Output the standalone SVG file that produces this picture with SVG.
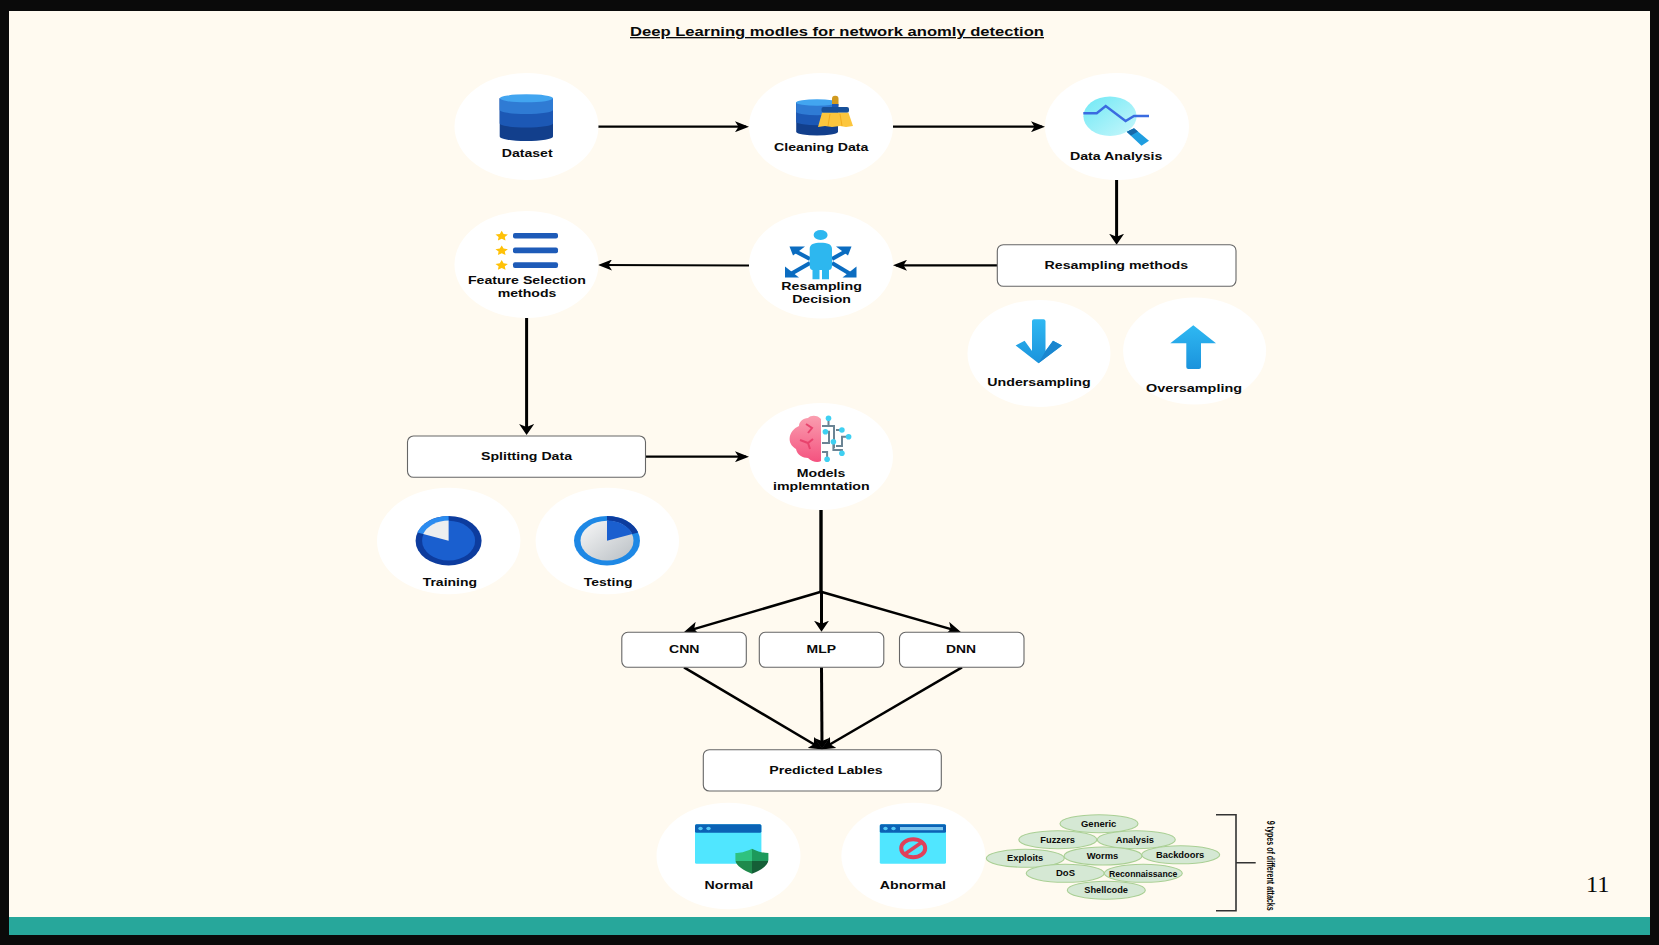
<svg xmlns="http://www.w3.org/2000/svg" width="1659" height="945" viewBox="0 0 1659 945">
<style>
text{font-family:"Liberation Sans",Arial,sans-serif;font-weight:700;fill:#0a0a0a;font-size:11.5px}
.g text{font-size:9.5px}
.disc{fill:#fff}
.box{fill:#fff;stroke:#666;stroke-width:1.1}
.oval{fill:#d5e8d4;stroke:#a9cf94;stroke-width:1.1}
.c line{stroke:#000;fill:none}
.h{stroke-width:2.2;marker-end:url(#aH)}
.v{stroke-width:3;marker-end:url(#aV)}
.d{stroke-width:2.5;marker-end:url(#aD)}
.bar{fill:#1e5bb8}
.star{fill:#ffc107}
.win{fill:#50e6ff}
.winb{fill:#0b62b5}
.dot{fill:#54c8f5}
.wire{fill:none;stroke:#6b8494;stroke-width:2}
.cy{fill:#3fd0f2}
</style>
<defs>
<marker id="aH" markerUnits="userSpaceOnUse" markerWidth="14" markerHeight="11" refX="11" refY="5.5" orient="auto"><path d="M0 0L14 5.5L0 11L3.5 5.5Z" fill="#000"/></marker>
<marker id="aV" markerUnits="userSpaceOnUse" markerWidth="11" markerHeight="15" refX="8" refY="7.5" orient="auto"><path d="M0 0L11 7.5L0 15L3 7.5Z" fill="#000"/></marker>
<marker id="aD" markerUnits="userSpaceOnUse" markerWidth="14" markerHeight="13" refX="10" refY="6.5" orient="auto"><path d="M0 0L14 6.5L0 13L3.5 6.5Z" fill="#000"/></marker>
<linearGradient id="blue" x1="0" y1="0" x2="0" y2="1"><stop offset="0" stop-color="#2fb8f2"/><stop offset="1" stop-color="#1b93dc"/></linearGradient>
<linearGradient id="lens" x1="0" y1="0" x2="1" y2="1"><stop offset="0" stop-color="#6fe8f5"/><stop offset="1" stop-color="#c8f7fb"/></linearGradient>
<linearGradient id="gray" x1="0" y1="0" x2="1" y2="1"><stop offset="0" stop-color="#f8f8f8"/><stop offset="1" stop-color="#b9bfc4"/></linearGradient>
<linearGradient id="pink" x1="0" y1="0" x2="0" y2="1"><stop offset="0" stop-color="#fa9fb0"/><stop offset="1" stop-color="#f4527f"/></linearGradient>
<clipPath id="shieldClip"><path d="M751.9 848.7C745 852 740 853 735.4 853V860C735.4 866 745 871 751.9 873.7C759 871 768.4 866 768.4 860V853C764 853 759 852 751.9 848.7Z"/></clipPath>
</defs>

<rect id="frame" width="1659" height="945" fill="#0a0a0a"/>
<rect x="9" y="11" width="1641" height="906" fill="#fffaf0"/>
<rect x="9" y="917" width="1641" height="18" fill="#27a79b"/>
<text id="title" x="630" y="36" style="font-size:13px;text-decoration:underline" textLength="414" lengthAdjust="spacingAndGlyphs">Deep Learning modles for network anomly detection</text>
<text id="page" x="1586" y="892.3" style="font-family:'Liberation Serif',serif;font-weight:400;font-size:23px" textLength="23.5" lengthAdjust="spacingAndGlyphs">11</text>

<g id="connectors" class="c">
<line class="h" x1="598" y1="126.7" x2="746" y2="126.7"/>
<line class="h" x1="893" y1="126.7" x2="1042" y2="126.7"/>
<line class="v" x1="1116.6" y1="180" x2="1116.6" y2="241.7"/>
<line class="h" x1="997" y1="265.3" x2="896" y2="265.3"/>
<line class="h" x1="749" y1="265.5" x2="601" y2="265"/>
<line class="v" x1="526.6" y1="318" x2="526.6" y2="432"/>
<line class="h" x1="645.4" y1="456.7" x2="746" y2="456.7"/>
<line x1="821" y1="510" x2="821" y2="592" stroke-width="3.4"/>
<line class="v" x1="821.5" y1="591" x2="821.5" y2="628.7"/>
<line class="d" x1="821" y1="591.7" x2="687.9" y2="630.9"/>
<line class="d" x1="821" y1="591.7" x2="957" y2="630.9"/>
<line class="d" x1="684" y1="667.3" x2="819.4" y2="747.5"/>
<line class="v" x1="821.5" y1="667.3" x2="822" y2="746"/>
<line class="d" x1="962" y1="667.3" x2="824.6" y2="747.5"/>
</g>

<g id="dataset">
<ellipse class="disc" cx="526.5" cy="126.5" rx="72" ry="53.5"/>
<path d="M499.7 98.3V136.5A26.6 4.5 0 0 0 553 136.5V98.3Z" fill="#123f8c"/>
<path d="M499.7 98.3V123.5A26.6 4 0 0 0 553 123.5V98.3Z" fill="#1c58b5"/>
<path d="M499.7 98.3V110A26.6 4 0 0 0 553 110V98.3Z" fill="#2f7bd4"/>
<ellipse cx="526.4" cy="98.3" rx="26.6" ry="4" fill="#42a5f0"/>
<text x="501.7" y="156.7" textLength="51" lengthAdjust="spacingAndGlyphs">Dataset</text>
</g>

<g id="cleaning-data">
<ellipse class="disc" cx="821" cy="126.5" rx="72" ry="53.5"/>
<path d="M796.2 102.5V132A21 4 0 0 0 838 132V102.5Z" fill="#123f8c"/>
<path d="M796.2 102.5V122A21 3.5 0 0 0 838 122V102.5Z" fill="#1c58b5"/>
<path d="M796.2 102.5V112A21 3.5 0 0 0 838 112V102.5Z" fill="#2f7bd4"/>
<ellipse cx="817" cy="102.5" rx="21" ry="3.2" fill="#42a5f0"/>
<rect x="832" y="95.7" width="6.5" height="12" rx="3" fill="#d19a1f"/>
<rect x="832" y="104" width="6.5" height="4" fill="#1c58b5"/>
<rect x="821.5" y="107" width="27.5" height="5.7" rx="2" fill="#175099"/>
<path d="M822 112.7H848.5L853 126L846 127L840 126L832 127L825 126L818 127Z" fill="#fcc63d"/>
<path d="M830 114L828 126M840 114L842 126" stroke="#f2ab1c" stroke-width="1" fill="none"/>
<text x="774" y="151" textLength="94.4" lengthAdjust="spacingAndGlyphs">Cleaning Data</text>
</g>

<g id="data-analysis">
<ellipse class="disc" cx="1117" cy="126.5" rx="72" ry="53.5"/>
<path d="M1126.6 131.7L1134 128.3L1149 140.7L1141.5 145.7Z" fill="#1f9ee0"/>
<path d="M1126.6 131.7L1134 128.3L1138 131.6L1131 135.5Z" fill="#1769aa"/>
<ellipse cx="1110" cy="116.3" rx="26.6" ry="19.7" fill="url(#lens)"/>
<polyline points="1083.3,113.3 1096.7,113.3 1105.7,106 1125.6,121 1134,116 1149,116" fill="none" stroke="#3a6be0" stroke-width="2.4"/>
<text x="1070" y="160.3" textLength="92.4" lengthAdjust="spacingAndGlyphs">Data Analysis</text>
</g>

<g id="feature-selection">
<ellipse class="disc" cx="526.5" cy="264.5" rx="72" ry="53.5"/>
<path class="star" d="M501.7 230.8l1.9 3.2 4.3.6-3.1 2.4.7 3.4-3.8-1.7-3.8 1.7.7-3.4-3.1-2.4 4.3-.6Z"/>
<path class="star" d="M501.7 245.4l1.9 3.2 4.3.6-3.1 2.4.7 3.4-3.8-1.7-3.8 1.7.7-3.4-3.1-2.4 4.3-.6Z"/>
<path class="star" d="M501.7 260.1l1.9 3.2 4.3.6-3.1 2.4.7 3.4-3.8-1.7-3.8 1.7.7-3.4-3.1-2.4 4.3-.6Z"/>
<rect class="bar" x="513" y="232.9" width="45" height="5.7" rx="2"/>
<rect class="bar" x="513" y="247.5" width="45" height="5.7" rx="2"/>
<rect class="bar" x="513" y="262.2" width="45" height="5.7" rx="2"/>
<text x="467.9" y="284.3" textLength="117.9" lengthAdjust="spacingAndGlyphs">Feature Selection</text>
<text x="497.7" y="297.3" textLength="58.7" lengthAdjust="spacingAndGlyphs">methods</text>
</g>

<g id="resampling-decision">
<ellipse class="disc" cx="821" cy="265" rx="72" ry="53.5"/>
<g fill="none" stroke="#0b6cc0" stroke-width="4">
<line x1="810" y1="259" x2="793" y2="250"/>
<line x1="832" y1="259" x2="848" y2="250"/>
<line x1="810" y1="263" x2="789" y2="275"/>
<line x1="832" y1="263" x2="852" y2="275"/>
</g>
<g fill="#0b6cc0">
<path d="M789.5 246.5H805L793 255.5Z"/><path d="M851.5 246.5H836L848 255.5Z"/>
<path d="M785 277.5V266.5L799 277.5Z"/><path d="M856.5 277.5V266.5L842.5 277.5Z"/>
</g>
<ellipse cx="820.6" cy="235" rx="7" ry="5" fill="#2db7ef"/>
<path d="M809.7 249C809.7 244 814 242.7 820.6 242.7S832 244 832 249V266C832 269 830 270 829 270V279.3H822V270H819.5V279.3H812.5V270C811.5 270 809.7 269 809.7 266Z" fill="#2db7ef"/>
<text x="781.3" y="290.3" textLength="80.6" lengthAdjust="spacingAndGlyphs">Resampling</text>
<text x="792.2" y="303.3" textLength="58.8" lengthAdjust="spacingAndGlyphs">Decision</text>
</g>

<g id="resampling-methods">
<rect class="box" x="997.3" y="244.7" width="238.7" height="41.6" rx="6"/>
<text x="1044.5" y="269" textLength="143.7" lengthAdjust="spacingAndGlyphs">Resampling methods</text>
</g>

<g id="undersampling">
<ellipse class="disc" cx="1039" cy="353.5" rx="71.5" ry="53.5"/>
<path d="M1032 321A2 2 0 0 1 1034 319.3H1043.5A2 2 0 0 1 1045.5 321V351L1053 340.7L1062 345.5L1038.5 363.3L1015.6 345.5L1024.6 340.7L1032 351Z" fill="url(#blue)"/>
<path d="M1045.5 351L1053 340.7L1062 345.5L1038.5 363.3Z" fill="#1a86cf"/>
<text x="987.3" y="386.3" textLength="103.4" lengthAdjust="spacingAndGlyphs">Undersampling</text>
</g>

<g id="oversampling">
<ellipse class="disc" cx="1194.6" cy="351" rx="71.5" ry="53.5"/>
<path d="M1193.3 325.3L1216 343.3L1201 343.3V367A2 2 0 0 1 1199 369H1188.3A2 2 0 0 1 1186.3 367V343.3L1170.3 343.3Z" fill="url(#blue)"/>
<text x="1146" y="392" textLength="96" lengthAdjust="spacingAndGlyphs">Oversampling</text>
</g>

<g id="splitting-data">
<rect class="box" x="407.5" y="436" width="238" height="41.3" rx="6"/>
<text x="481" y="460.3" textLength="91" lengthAdjust="spacingAndGlyphs">Splitting Data</text>
</g>

<g id="models-implementation">
<ellipse class="disc" cx="821" cy="456.5" rx="72" ry="53.5"/>
<path d="M821 419C818 415 811 414.5 808 418C803 418 799 422 799 426C794 428 789.6 433 789.6 439C789.6 444 793 447 796 449C797 455 803 458 808 458C812 462 818 463 821 461Z" fill="url(#pink)"/>
<path d="M806 424L812 428L808 433M800 440L808 443L813 439M808 443L810 449" fill="none" stroke="#e8436d" stroke-width="2"/>
<path class="wire" d="M828.5 418.3V426M822 426H834V448M825.4 431.7H829V443H822M841.9 430H836M848.6 436.7H842V446H836M833.4 441.7V450H841.9V453.3M827.1 459.3V452H822"/>
<circle class="cy" cx="828.5" cy="418.3" r="2.8"/>
<circle class="cy" cx="825.4" cy="431.7" r="2.8"/>
<circle class="cy" cx="841.9" cy="430" r="2.8"/>
<circle class="cy" cx="848.6" cy="436.7" r="2.8"/>
<circle class="cy" cx="833.4" cy="441.7" r="2.8"/>
<circle class="cy" cx="841.9" cy="453.3" r="2.8"/>
<circle class="cy" cx="827.1" cy="459.3" r="2.8"/>
<text x="796.8" y="476.7" textLength="48.6" lengthAdjust="spacingAndGlyphs">Models</text>
<text x="773" y="489.7" textLength="96.6" lengthAdjust="spacingAndGlyphs">implemntation</text>
</g>

<g id="training">
<ellipse class="disc" cx="448.7" cy="541" rx="71.7" ry="53.3"/>
<g transform="translate(448.6 540.7) scale(1 .75)">
<circle r="33" fill="#0d3c9e"/>
<path d="M0 0L-31.2 -10.9A33 33 0 0 1 0 -33Z" fill="#2b8cf0"/>
<circle r="26.5" fill="#1a5fcf"/>
<path d="M0 0L-25.4 -8.9A26.9 26.9 0 0 1 0 -26.9Z" fill="#eceeef"/>
</g>
<text x="422.7" y="585.7" textLength="54.3" lengthAdjust="spacingAndGlyphs">Training</text>
</g>

<g id="testing">
<ellipse class="disc" cx="607.3" cy="541" rx="71.7" ry="53.3"/>
<g transform="translate(607 540.7) scale(1 .75)">
<circle r="33" fill="#1e88e5"/>
<path d="M0 0L31.2 -10.9A33 33 0 0 0 0 -33Z" fill="#0d3c9e"/>
<circle r="26.5" fill="url(#gray)"/>
<path d="M0 0L25.4 -8.9A26.9 26.9 0 0 0 0 -26.9Z" fill="#1a5fcf"/>
</g>
<text x="583.8" y="585.7" textLength="48.7" lengthAdjust="spacingAndGlyphs">Testing</text>
</g>

<g id="cnn"><rect class="box" x="621.8" y="632.3" width="124.5" height="35" rx="6"/><text x="669" y="653.3" textLength="30.5" lengthAdjust="spacingAndGlyphs">CNN</text></g>
<g id="mlp"><rect class="box" x="759.3" y="632.3" width="124.5" height="35" rx="6"/><text x="806.6" y="653.3" textLength="29.4" lengthAdjust="spacingAndGlyphs">MLP</text></g>
<g id="dnn"><rect class="box" x="899.5" y="632.3" width="124.5" height="35" rx="6"/><text x="946" y="653.3" textLength="30" lengthAdjust="spacingAndGlyphs">DNN</text></g>

<g id="predicted-labels">
<rect class="box" x="703.3" y="749.7" width="238" height="41.3" rx="6"/>
<text x="769.2" y="774" textLength="113.6" lengthAdjust="spacingAndGlyphs">Predicted Lables</text>
</g>

<g id="normal">
<ellipse class="disc" cx="728.5" cy="856" rx="72" ry="53.3"/>
<rect class="win" x="695" y="824.3" width="66.4" height="39.4" rx="1.5"/>
<rect class="winb" x="695" y="824.3" width="66.4" height="8.4" rx="1.5"/>
<ellipse class="dot" cx="700.5" cy="828.5" rx="2.2" ry="1.7"/>
<ellipse class="dot" cx="708.5" cy="828.5" rx="2.2" ry="1.7"/>
<g clip-path="url(#shieldClip)">
<rect x="735" y="848" width="17" height="13" fill="#2fc27f"/>
<rect x="752" y="848" width="17" height="13" fill="#1d9a5c"/>
<rect x="735" y="861" width="17" height="13" fill="#1f8a4c"/>
<rect x="752" y="861" width="17" height="13" fill="#155f37"/>
</g>
<text x="704.6" y="889.3" textLength="48.6" lengthAdjust="spacingAndGlyphs">Normal</text>
</g>

<g id="abnormal">
<ellipse class="disc" cx="913.4" cy="856" rx="72" ry="53.3"/>
<rect class="win" x="879.8" y="824.3" width="66.2" height="39.4" rx="1.5"/>
<rect class="winb" x="879.8" y="824.3" width="66.2" height="8.4" rx="1.5"/>
<ellipse class="dot" cx="885.5" cy="828.5" rx="2.2" ry="1.7"/>
<ellipse class="dot" cx="893.5" cy="828.5" rx="2.2" ry="1.7"/>
<rect x="900" y="827" width="43" height="3.2" fill="#7cc6ee"/>
<ellipse cx="913.2" cy="848.3" rx="12" ry="9" fill="#50e6ff" stroke="#e0405a" stroke-width="4"/>
<line x1="905" y1="854" x2="921.5" y2="842.5" stroke="#e0405a" stroke-width="3.5"/>
<text x="879.8" y="888.7" textLength="66.2" lengthAdjust="spacingAndGlyphs">Abnormal</text>
</g>

<g id="attack-types" class="g">
<g id="generic"><ellipse class="oval" cx="1099" cy="823.7" rx="39" ry="9"/><text x="1081" y="826.7" textLength="35.3" lengthAdjust="spacingAndGlyphs">Generic</text></g>
<g id="fuzzers"><ellipse class="oval" cx="1057.8" cy="839.7" rx="39" ry="9"/><text x="1040.3" y="842.7" textLength="34.7" lengthAdjust="spacingAndGlyphs">Fuzzers</text></g>
<g id="analysis"><ellipse class="oval" cx="1136.3" cy="839.7" rx="39" ry="9"/><text x="1115.7" y="842.7" textLength="38.3" lengthAdjust="spacingAndGlyphs">Analysis</text></g>
<g id="exploits"><ellipse class="oval" cx="1025.3" cy="858.3" rx="39" ry="9"/><text x="1007" y="860.7" textLength="36.3" lengthAdjust="spacingAndGlyphs">Exploits</text></g>
<g id="worms"><ellipse class="oval" cx="1103" cy="856" rx="39" ry="9"/><text x="1086.7" y="859" textLength="31.6" lengthAdjust="spacingAndGlyphs">Worms</text></g>
<g id="backdoors"><ellipse class="oval" cx="1180.7" cy="854.8" rx="39" ry="9"/><text x="1156" y="858" textLength="48.3" lengthAdjust="spacingAndGlyphs">Backdoors</text></g>
<g id="dos"><ellipse class="oval" cx="1065.2" cy="873.3" rx="39" ry="9"/><text x="1056" y="876.4" textLength="19" lengthAdjust="spacingAndGlyphs">DoS</text></g>
<g id="reconnaissance"><ellipse class="oval" cx="1143.3" cy="873.3" rx="39" ry="9"/><text x="1109" y="876.6" textLength="68.3" lengthAdjust="spacingAndGlyphs">Reconnaissance</text></g>
<g id="shellcode"><ellipse class="oval" cx="1106.3" cy="890.2" rx="39" ry="9"/><text x="1084.3" y="893.3" textLength="43.7" lengthAdjust="spacingAndGlyphs">Shellcode</text></g>
<path d="M1216 814.7H1236V910.7H1216M1236 862.7H1255.7" fill="none" stroke="#333" stroke-width="1.6"/>
<text transform="translate(1267.2 820.7) rotate(90)" style="font-size:10.5px" textLength="90" lengthAdjust="spacingAndGlyphs">9 types of different attacks</text>
</g>
</svg>
